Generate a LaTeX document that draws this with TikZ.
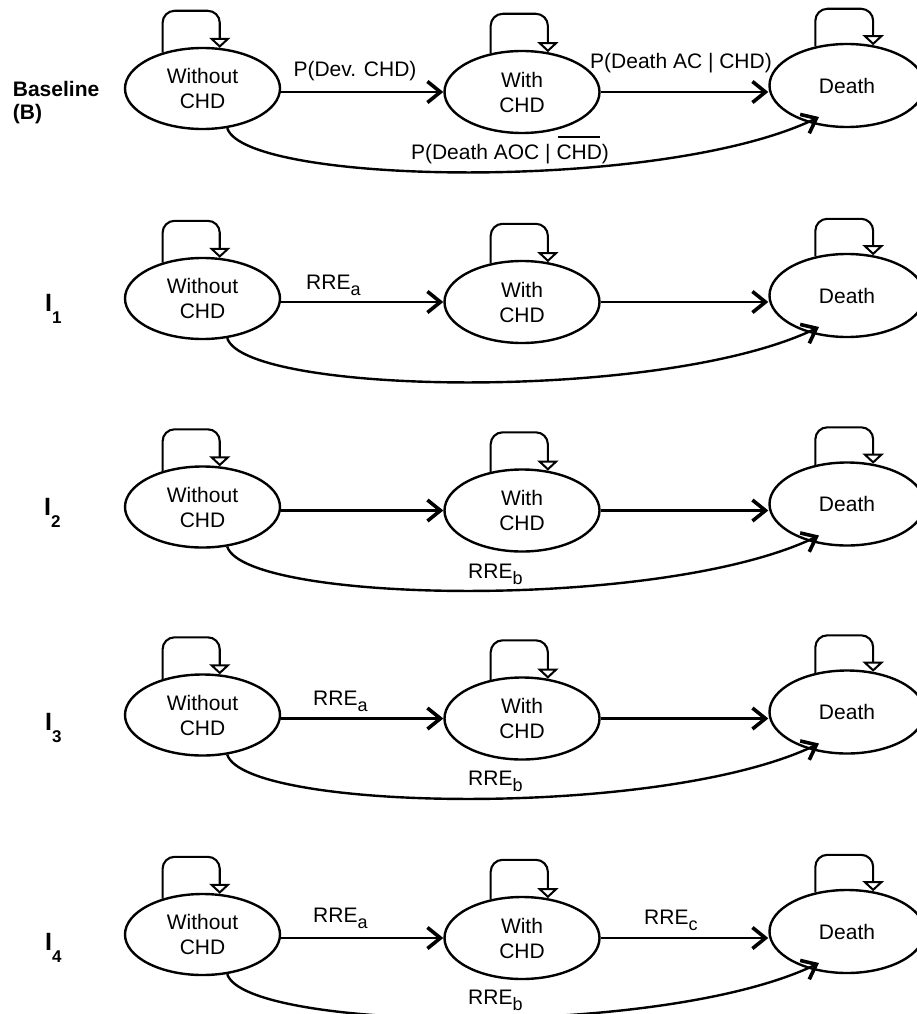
\documentclass[tikz,border=0pt]{standalone}
\usepackage{fontspec}
\setmainfont{Liberation Sans}
\usetikzlibrary{arrows.meta,calc,shapes.geometric}
\newcommand\lowsub[1]{\raisebox{-6pt}{\fontsize{18}{18}\selectfont #1}}
\newcommand\rowsub[1]{\raisebox{-12pt}{\fontsize{17}{17}\selectfont #1}}
\newcommand\ovlchd{\rlap{\hspace{1.5pt}\rule[21pt]{42pt}{1.6pt}}CHD}
\begin{document}
\begin{tikzpicture}[x=1pt,y=-1pt,
  state/.style={ellipse, draw, line width=2.4pt, minimum width=155pt, minimum height=81pt,
    inner sep=0pt, align=center, font=\fontsize{21}{25}\selectfont},
  trans/.style={line width=2.4pt, -{Straight Barb[length=13pt,width=21pt,line width=3.6pt]}},
  selfloop/.style={line width=2.1pt, rounded corners=12pt,
    -{Triangle[open,length=10pt,width=21pt,line width=2pt]}},
  lbl/.style={anchor=base west, font=\fontsize{21}{25}\selectfont, inner sep=0pt},
  rowlbl/.style={anchor=base west, font=\bfseries\fontsize{25}{25}\selectfont, inner sep=0pt},
  baselbl/.style={anchor=base west, font=\bfseries\fontsize{21}{25}\selectfont, inner sep=0pt}
]
\fill[white] (0,0) rectangle (916,1014);
\useasboundingbox (0,0) rectangle (916,1014);

\foreach \i/\r in {1/88.5, 2/298.5, 3/507, 4/715, 5/934.5}{
  \node[state] (wo\i) at (202.5,\r) {Without\\CHD};
  \node[state, minimum height=82pt] (w\i) at (522,\r+3.5) {With\\CHD};
  \node[state, minimum height=83pt] (d\i) at (847,\r-3) {Death};
  % self loops
  \draw[selfloop] (wo\i.138) |- ([yshift=36pt]wo\i.north -| wo\i.67) -- (wo\i.67);
  \draw[selfloop] (w\i.129) |- ([yshift=36pt]w\i.north -| w\i.57) -- (w\i.57);
  \draw[selfloop] (d\i.129) |- ([yshift=34pt]d\i.north -| d\i.57) -- (d\i.57);
  % transitions
  \draw[trans] (wo\i.east |- w\i.west) -- (w\i.west);
  \draw[trans] (w\i.east) -- (w\i.east -| d\i.west);
  \draw[trans] (wo\i.-58) .. controls ($(wo\i.center)+(42.5,96.5)$) and ($(wo\i.center)+(460,104)$) .. ($(d\i.center)+(-28,31.5)$);
}

% Baseline row labels
\node[baselbl] (bl1) at (12.7,96.7) {Baseline};
\node[baselbl] (bl2) at (12.7,119.5) {(B)};
\node[lbl, anchor=base] (p1) at (355,77) {P(Dev. CHD)};
\node[lbl, anchor=base] (p2) at (681,69) {P(Death AC | CHD)};
\node[lbl, anchor=base] (p3) at (510,159) {P(Death AOC | \ovlchd)};

% row labels
\node[rowlbl] (i1) at (45,311) {I\rowsub{1}};
\node[rowlbl] (i2) at (44,515) {I\rowsub{2}};
\node[rowlbl] (i3) at (45,730) {I\rowsub{3}};
\node[rowlbl] (i4) at (45,950) {I\rowsub{4}};

% RRE labels
\node[lbl] (ra2) at (306,289) {RRE\lowsub{a}};
\node[lbl] (rb3) at (468,578) {RRE\lowsub{b}};
\node[lbl] (ra4) at (313,705) {RRE\lowsub{a}};
\node[lbl] (rb4) at (468,785) {RRE\lowsub{b}};
\node[lbl] (ra5) at (313,922) {RRE\lowsub{a}};
\node[lbl] (rc5) at (644,924) {RRE\lowsub{c}};
\node[lbl] (rb5) at (468,1004) {RRE\lowsub{b}};
\end{tikzpicture}
\end{document}
